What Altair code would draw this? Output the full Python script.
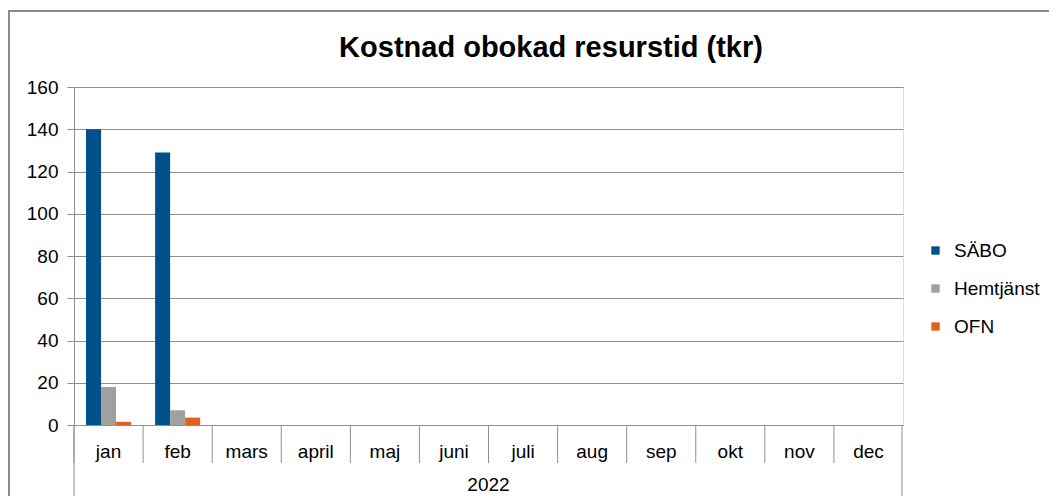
import altair as alt
import pandas as pd

months = ["jan", "feb", "mars", "april", "maj", "juni", "juli", "aug", "sep", "okt", "nov", "dec"]
series = ["SÄBO", "Hemtjänst", "OFN"]
saebo = [140, 129, None, None, None, None, None, None, None, None, None, None]
hemtjanst = [18, 7, None, None, None, None, None, None, None, None, None, None]
ofn = [1.5, 3.5, None, None, None, None, None, None, None, None, None, None]
year_label = "2022"
title_text = "Kostnad obokad resurstid (tkr)"
colors = ["#00508A", "#A0A09C", "#E0601E"]

rows = []
for i, m in enumerate(months):
    for s, vals in zip(series, [saebo, hemtjanst, ofn]):
        rows.append({"month": m, "series": s, "value": vals[i]})
df = pd.DataFrame(rows)
mdf = pd.DataFrame({"month": months})
one = pd.DataFrame({"a": [0]})

W, H = 829, 338
FONT = "Liberation Sans"
GRID = "#8f8f8f"
FS = 19

xscale = alt.Scale(domain=months, paddingInner=0, paddingOuter=0)

bars = alt.Chart(df).mark_bar().encode(
    x=alt.X("month:N", sort=months, scale=xscale,
            axis=alt.Axis(title=None, labelAngle=0, ticks=False, labelPadding=17,
                          labelFontSize=FS, labelFont=FONT, labelColor="#000000",
                          domainColor=GRID, domainWidth=1)),
    xOffset=alt.XOffset("series:N", sort=series,
                        scale=alt.Scale(paddingOuter=0.8, paddingInner=0)),
    y=alt.Y("value:Q", scale=alt.Scale(domain=[0, 160], nice=False),
            axis=alt.Axis(title=None, values=list(range(0, 161, 20)), grid=True,
                          gridColor=GRID, gridWidth=1, tickColor=GRID, tickSize=7,
                          domainColor=GRID, labelFontSize=FS, labelFont=FONT,
                          labelColor="#000000", labelPadding=9)),
    color=alt.Color("series:N", sort=series,
                    scale=alt.Scale(domain=series, range=colors),
                    legend=alt.Legend(title=None, orient="none", legendX=852, legendY=154,
                                      symbolType="square", symbolSize=70,
                                      symbolStrokeWidth=0, labelFontSize=FS,
                                      labelFont=FONT, labelColor="#000000",
                                      rowPadding=18, labelOffset=9)),
)

seps = alt.Chart(mdf).mark_rule(color=GRID, strokeWidth=1).encode(
    x=alt.X("month:N", sort=months, scale=xscale, bandPosition=0),
    y=alt.value(H), y2=alt.value(376),
)

left_line = alt.Chart(one).mark_rule(color=GRID, strokeWidth=1).encode(
    x=alt.value(0), y=alt.value(H), y2=alt.value(420))
right_line = alt.Chart(one).mark_rule(color=GRID, strokeWidth=1).encode(
    x=alt.value(W - 1), y=alt.value(H), y2=alt.value(415))

frame = alt.Chart(one).mark_rect(fill=None, stroke="#8a8a8a", strokeWidth=2).encode(
    x=alt.value(-65), x2=alt.value(1000), y=alt.value(-76), y2=alt.value(440))

title = alt.Chart(one).mark_text(text=title_text, font=FONT, fontSize=29,
                                 fontWeight="bold", color="#000000",
                                 baseline="middle", align="center").encode(
    x=alt.value(477), y=alt.value(-39))

year = alt.Chart(one).mark_text(text=year_label, font=FONT, fontSize=FS,
                                color="#000000", baseline="middle",
                                align="center").encode(
    x=alt.value(W / 2), y=alt.value(398))

chart = alt.layer(frame, bars, seps, left_line, right_line, title, year).properties(
    width=W, height=H,
    autosize=alt.AutoSizeParams(type="none"),
    padding={"left": 66, "top": 79, "right": 146, "bottom": 71},
).configure_view(stroke=None).configure(background="white")

chart.save("out.html", embed_options={"renderer": "svg", "actions": False})
